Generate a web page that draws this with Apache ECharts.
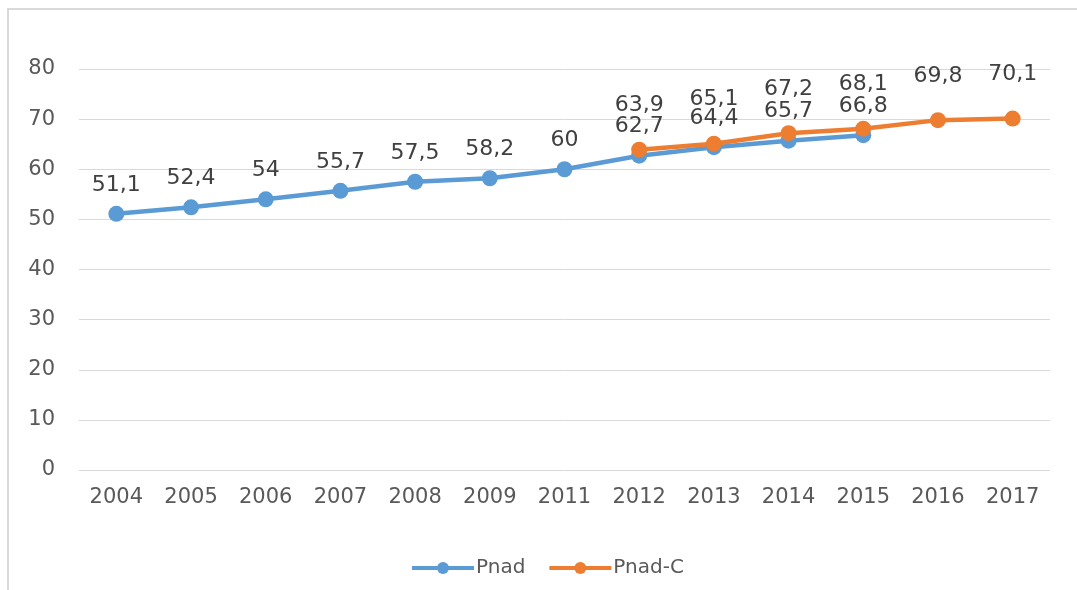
<!DOCTYPE html>
<html>
<head>
<meta charset="utf-8">
<script src="https://cdn.jsdelivr.net/npm/echarts@6/dist/echarts.min.js"></script>
<style>
  html, body { margin: 0; padding: 0; background: #fff; }
  #chart { width: 1077px; height: 590px; }
</style>
</head>
<body>
<div id="chart"></div>
<script>
/* data */
const years = ['2004', '2005', '2006', '2007', '2008', '2009', '2011', '2012', '2013', '2014', '2015', '2016', '2017'];
const pnad = [51.1, 52.4, 54, 55.7, 57.5, 58.2, 60, 62.7, 64.4, 65.7, 66.8, null, null];
const pnadC = [null, null, null, null, null, null, null, 63.9, 65.1, 67.2, 68.1, 69.8, 70.1];
const yTicks = [0, 10, 20, 30, 40, 50, 60, 70, 80];

const FONT = 'DejaVu Sans';
const commaLabel = p => String(p.value).replace('.', ',');

const chart = echarts.init(document.getElementById('chart'));

const option = {
    backgroundColor: '#fff',
    animation: false,
    textStyle: { fontFamily: FONT },
    graphic: [{
        type: 'rect',
        shape: { x: 8, y: 9, width: 1200, height: 700 },
        style: { fill: 'none', stroke: '#d9d9d9', lineWidth: 2 },
        silent: true
    }],
    grid: { left: 79, right: 27, top: 69, bottom: 120 },
    legend: {
        left: 405,
        top: 553,
        itemWidth: 62,
        itemHeight: 15,
        itemGap: 22,
        lineStyle: { width: 4 },
        textStyle: { fontFamily: FONT, fontSize: 20, color: '#595959', padding: [0, 0, 0, -3] },
        data: ['Pnad', 'Pnad-C']
    },
    xAxis: {
        type: 'category',
        data: years,
        boundaryGap: true,
        axisLine: { show: false },
        axisTick: { show: false },
        axisLabel: { fontFamily: FONT, fontSize: 21, color: '#595959', margin: 17 }
    },
    yAxis: {
        type: 'value',
        min: yTicks[0],
        max: yTicks[yTicks.length - 1],
        interval: 10,
        axisLine: { show: false },
        axisTick: { show: false },
        axisLabel: { fontFamily: FONT, fontSize: 21, color: '#595959', margin: 24 },
        splitLine: { lineStyle: { color: '#d9d9d9', width: 1 } }
    },
    series: [
        {
            name: 'Pnad',
            type: 'line',
            data: pnad,
            color: '#5b9bd5',
            symbol: 'circle',
            symbolSize: 16,
            lineStyle: { width: 4.5 },
            label: {
                show: true, position: 'top', distance: 10,
                fontFamily: FONT, fontSize: 22, color: '#404040',
                formatter: commaLabel
            }
        },
        {
            name: 'Pnad-C',
            type: 'line',
            data: pnadC,
            color: '#ed7d31',
            symbol: 'circle',
            symbolSize: 16,
            lineStyle: { width: 4.5 },
            label: {
                show: true, position: 'top', distance: 25,
                fontFamily: FONT, fontSize: 22, color: '#404040',
                formatter: commaLabel
            }
        }
    ]
};

chart.setOption(option);
</script>
</body>
</html>
